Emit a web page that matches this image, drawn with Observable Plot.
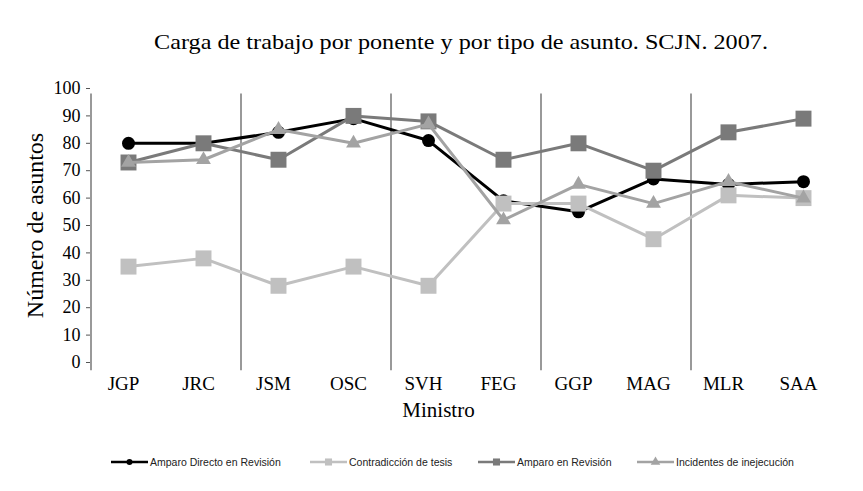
<!DOCTYPE html>
<html><head><meta charset="utf-8">
<script src="https://cdn.jsdelivr.net/npm/d3@7"></script>
<script src="https://cdn.jsdelivr.net/npm/@observablehq/plot@0.6"></script>
<style>
body{margin:0;background:#fff;width:863px;height:491px;overflow:hidden;font-family:"Liberation Serif",serif;color:#000;}
#title{height:70px;position:relative;}
#title span{position:absolute;left:0;width:922px;top:30px;text-align:center;font-size:22px;line-height:24px;transform:scaleX(1.1);transform-origin:461px 0;}
#legend{position:relative;height:51px;}
.item{position:absolute;top:15px;height:14px;display:flex;align-items:center;font-family:"Liberation Sans",sans-serif;font-size:10.5px;color:#222;white-space:nowrap;}
.item svg{margin-right:2px;}
</style></head>
<body>
<div id="title"><span>Carga de trabajo por ponente y por tipo de asunto. SCJN. 2007.</span></div>
<div id="chart"></div>
<div id="legend"></div>
<script>
const categories = ["JGP","JRC","JSM","OSC","SVH","FEG","GGP","MAG","MLR","SAA"];
const amparoDirecto = [80,80,84,89,81,59,55,67,65,66];
const contradiccion = [35,38,28,35,28,58,58,45,61,60];
const amparoRevision = [73,80,74,90,88,74,80,70,84,89];
const incidentes = [73,74,85,80,87,52,65,58,66,60];
const seriesNames = ["Amparo Directo en Revisión","Contradicción de tesis","Amparo en Revisión","Incidentes de inejecución"];
const yTicks = [0,10,20,30,40,50,60,70,80,90,100];
const separatorsAfter = ["JRC","OSC","FEG","MAG"];
const xLabel = "Ministro";
const yLabel = "Número de asuntos";

const styles = [
  {color:"#000000", symbol:"circle", r:6.5, width:3},
  {color:"#c0c0c0", symbol:"square", r:9, width:3},
  {color:"#7a7a7a", symbol:"square", r:9, width:3},
  {color:"#a3a3a3", symbol:"triangle", r:5.5, width:3}
];
const values = [amparoDirecto, contradiccion, amparoRevision, incidentes];

const W = 863, H = 370, mt = 18, mb = 78, ml = 90, mr = 23;
const step = (W - ml - mr) / categories.length;

const marks = [
  Plot.ruleX([categories[0]], {x: d => d, dx: -step/2, y1: -3, y2: 98, stroke: "#555", strokeWidth: 1.2}),
  Plot.ruleX(separatorsAfter, {x: d => d, dx: step/2, y1: -3, y2: 98, stroke: "#555", strokeWidth: 1.2}),
  Plot.axisY(yTicks, {tickSize: 4, tickPadding: 6, label: null, fontSize: 18, stroke: "#555"}),
  Plot.axisX({tickSize: 0, tickPadding: 14, label: null, fontSize: 19, dx: -5}),
  Plot.text([yLabel], {frameAnchor: "left", rotate: -90, dx: -55, textAnchor: "middle", lineAnchor: "middle", fontSize: 24, text: d => d}),
  Plot.text([xLabel], {frameAnchor: "bottom", dy: 54, dx: -27, fontSize: 21, text: d => d})
];
values.forEach((vals, i) => {
  const s = styles[i];
  const rows = categories.map((c, j) => ({c, v: vals[j]}));
  marks.push(Plot.lineY(rows, {x: "c", y: "v", stroke: s.color, strokeWidth: s.width}));
  marks.push(Plot.dot(rows, {x: "c", y: "v", fill: s.color, symbol: s.symbol, r: s.r}));
});

const chart = Plot.plot({
  width: W, height: H,
  marginTop: mt, marginBottom: mb, marginLeft: ml, marginRight: mr,
  style: {fontFamily: "Liberation Serif", fontSize: "17px", color: "#000", overflow: "visible"},
  x: {type: "point", domain: categories, padding: 0.5, axis: null},
  y: {domain: [0, 100], axis: null},
  marks
});
document.getElementById("chart").appendChild(chart);

const legendX = [111, 310, 478, 637];
const legend = document.getElementById("legend");
seriesNames.forEach((name, i) => {
  const s = styles[i];
  const div = document.createElement("div");
  div.className = "item";
  div.style.left = legendX[i] + "px";
  const sym = s.symbol === "circle" ? d3.symbolCircle : s.symbol === "square" ? d3.symbolSquare : d3.symbolTriangle;
  const size = s.symbol === "circle" ? 28 : s.symbol === "square" ? 50 : 40;
  div.innerHTML = `<svg width="37" height="12"><line x1="0" x2="37" y1="6" y2="6" stroke="${s.color}" stroke-width="2.5"/><path transform="translate(18.5,6)" d="${d3.symbol(sym, size)()}" fill="${s.color}"/></svg><span>${name}</span>`;
  legend.appendChild(div);
});
</script>
</body></html>
